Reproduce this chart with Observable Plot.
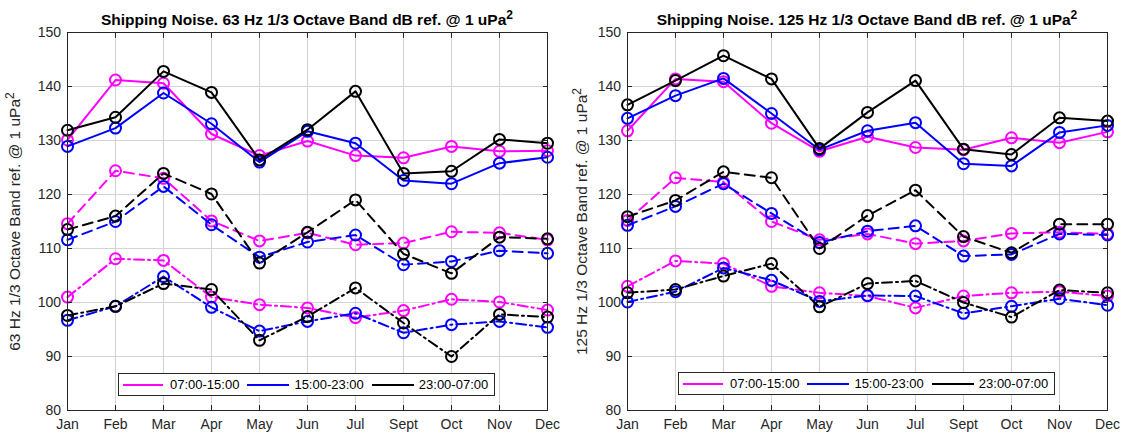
<!DOCTYPE html>
<html>
<head>
<meta charset="utf-8">
<script src="https://cdn.jsdelivr.net/npm/d3@7"></script>
<script src="https://cdn.jsdelivr.net/npm/@observablehq/plot@0.6"></script>
<style>
  body { margin: 0; background: #fff; font-family: Arial, "Liberation Sans", sans-serif; }
  #wrap { position: relative; width: 1126px; height: 435px; overflow: hidden; }
  .panel { position: absolute; top: 0; width: 563px; height: 435px; }
  .title { height: 26px; box-sizing: border-box; padding-top: 12px; line-height: 16px; font-weight: bold; font-size: 15.5px; color: #000; text-align: center; white-space: nowrap; }
  .title sup { font-size: 12px; vertical-align: 6px; line-height: 0; }
  .legend { position: absolute; height: 21px; border: 1px solid #262626; background: #fff; display: flex; align-items: center; font-size: 13px; color: #000; white-space: nowrap; }
  .legend .sw { display: inline-block; height: 2px; }
  .panel svg { display: block; }
</style>
</head>
<body>
<div id="wrap"></div>
<script>
// ---------- data ----------
const months = ["Jan", "Feb", "Mar", "Apr", "May", "Jun", "Jul", "Sept", "Oct", "Nov", "Dec"];
const periods = ["07:00-15:00", "15:00-23:00", "23:00-07:00"];
const lineKinds = ["solid", "dashed", "dashdot"];
const yTicks = [80, 90, 100, 110, 120, 130, 140, 150];

// 63 Hz panel
const hz63_solid_0715   = [130.1, 141.2, 140.6, 131.2, 127.2, 129.9, 127.2, 126.8, 128.9, 128.0, 128.1];
const hz63_solid_1523   = [128.9, 132.3, 138.8, 133.1, 126.0, 131.7, 129.5, 122.6, 122.0, 125.8, 126.9];
const hz63_solid_2307   = [131.9, 134.3, 142.8, 138.9, 126.4, 132.0, 139.1, 123.9, 124.3, 130.2, 129.5];
const hz63_dashed_0715  = [114.6, 124.4, 123.0, 115.1, 111.4, 112.9, 110.7, 111.0, 113.1, 112.9, 111.6];
const hz63_dashed_1523  = [111.6, 115.0, 121.5, 114.4, 108.4, 111.2, 112.5, 107.0, 107.6, 109.6, 109.1];
const hz63_dashed_2307  = [113.5, 116.0, 123.9, 120.1, 107.3, 113.0, 119.0, 109.0, 105.4, 112.1, 111.8];
const hz63_dashdot_0715 = [101.0, 108.1, 107.8, 101.0, 99.6, 99.0, 97.2, 98.5, 100.6, 100.1, 98.6];
const hz63_dashdot_1523 = [96.7, 99.3, 104.8, 99.1, 94.7, 96.5, 98.0, 94.4, 95.9, 96.5, 95.4];
const hz63_dashdot_2307 = [97.6, 99.3, 103.5, 102.4, 93.0, 97.4, 102.7, 96.2, 90.0, 97.8, 97.3];

// 125 Hz panel
const hz125_solid_0715   = [131.8, 141.4, 140.9, 133.2, 128.0, 130.7, 128.7, 128.3, 130.5, 129.6, 131.6];
const hz125_solid_1523   = [134.1, 138.3, 141.5, 135.0, 128.3, 131.8, 133.3, 125.7, 125.3, 131.5, 132.8];
const hz125_solid_2307   = [136.6, 141.1, 145.7, 141.4, 128.5, 135.2, 141.1, 128.4, 127.4, 134.2, 133.6];
const hz125_dashed_0715  = [115.2, 123.1, 122.3, 115.0, 111.6, 112.7, 110.9, 111.4, 112.8, 113.0, 112.7];
const hz125_dashed_1523  = [114.3, 117.8, 122.0, 116.5, 111.1, 113.2, 114.2, 108.6, 108.9, 112.7, 112.5];
const hz125_dashed_2307  = [115.9, 118.9, 124.2, 123.1, 110.0, 116.1, 120.8, 112.2, 109.2, 114.5, 114.5];
const hz125_dashdot_0715 = [103.0, 107.7, 107.2, 103.0, 101.8, 101.2, 99.0, 101.2, 101.8, 102.0, 101.2];
const hz125_dashdot_1523 = [100.1, 102.0, 106.4, 104.1, 100.2, 101.3, 101.2, 98.0, 99.3, 100.7, 99.5];
const hz125_dashdot_2307 = [101.8, 102.4, 104.9, 107.2, 99.2, 103.5, 104.0, 100.0, 97.3, 102.3, 101.8];

const titles = ["Shipping Noise. 63 Hz 1/3 Octave Band dB ref. @ 1 uPa", "Shipping Noise. 125 Hz 1/3 Octave Band dB ref. @ 1 uPa"];
const yLabels = ["63 Hz 1/3 Octave Band ref. @ 1 uPa", "125 Hz 1/3 Octave Band ref. @ 1 uPa"];

const panel63 = [
  [hz63_solid_0715, hz63_solid_1523, hz63_solid_2307],
  [hz63_dashed_0715, hz63_dashed_1523, hz63_dashed_2307],
  [hz63_dashdot_0715, hz63_dashdot_1523, hz63_dashdot_2307]
];
const panel125 = [
  [hz125_solid_0715, hz125_solid_1523, hz125_solid_2307],
  [hz125_dashed_0715, hz125_dashed_1523, hz125_dashed_2307],
  [hz125_dashdot_0715, hz125_dashdot_1523, hz125_dashdot_2307]
];

// ---------- drawing ----------
const colorRange = ["#ff00ff", "#0000ff", "#000000"];
const dashFor = {solid: null, dashed: "10,6", dashdot: "10,4,2,4"};
const axisColor = "#262626";

function buildPanel(series, title, yLabel, opts) {
  const div = document.createElement("div");
  div.className = "panel";
  div.style.left = opts.left + "px";

  const t = document.createElement("div");
  t.className = "title";
  t.style.marginLeft = opts.marginLeft + "px";
  t.style.width = (563 - opts.marginLeft - opts.marginRight) + "px";
  t.innerHTML = title + "<sup>2</sup>";
  div.appendChild(t);

  const marks = [
    Plot.gridX({stroke: "#d4d4d4", strokeOpacity: 1, strokeWidth: 1.2}),
    Plot.gridY(yTicks, {stroke: "#d4d4d4", strokeOpacity: 1, strokeWidth: 1.2})
  ];
  lineKinds.forEach((kind, k) => {
    periods.forEach((p, j) => {
      const rows = series[k][j].map((v, i) => ({month: months[i], value: v, period: p}));
      marks.push(Plot.line(rows, {x: "month", y: "value", stroke: "period", strokeWidth: 2, strokeDasharray: dashFor[kind]}));
      marks.push(Plot.dot(rows, {x: "month", y: "value", stroke: "period", r: 5.5, strokeWidth: 2}));
    });
  });
  marks.push(
    Plot.frame({stroke: axisColor, strokeWidth: 1}),
    Plot.axisX({anchor: "bottom", tickSize: -5, tickPadding: 14, label: null, fontSize: 14}),
    Plot.axisX({anchor: "top", tickSize: -5, text: null, label: null}),
    Plot.axisY(yTicks, {anchor: "left", tickSize: -5, tickPadding: 11.5, fontSize: 14, label: yLabel, labelAnchor: "center", labelArrow: "none", labelOffset: opts.labelOffset}),
    Plot.axisY(yTicks, {anchor: "right", tickSize: -5, text: null, label: null})
  );

  const svg = Plot.plot({
    width: 563,
    height: 409,
    marginTop: 6,
    marginBottom: 25,
    marginLeft: opts.marginLeft,
    marginRight: opts.marginRight,
    x: {type: "point", domain: months, padding: 0},
    y: {domain: [80, 150]},
    color: {domain: periods, range: colorRange},
    style: {fontFamily: "Arial, 'Liberation Sans', sans-serif", fontSize: "14px", color: axisColor, background: "transparent", overflow: "visible"},
    marks
  });

  // larger y-axis label with a superscript
  const labG = svg.querySelector('g[aria-label="y-axis label"]');
  const lab = labG && labG.querySelector("text");
  if (lab) {
    labG.setAttribute("font-size", "15.5");
    lab.setAttribute("font-size", "15.5");
    const ts = document.createElementNS("http://www.w3.org/2000/svg", "tspan");
    ts.setAttribute("dy", "-0.45em");
    ts.setAttribute("font-size", "12");
    ts.textContent = "2";
    lab.appendChild(ts);
  }
  div.appendChild(svg);

  // legend inside the axes
  const lg = document.createElement("div");
  lg.className = "legend";
  lg.style.left = opts.legendLeft + "px";
  lg.style.top = opts.legendTop + "px";
  lg.style.width = "375px";
  periods.forEach((p, j) => {
    const sw = document.createElement("span");
    sw.className = "sw";
    sw.style.background = colorRange[j];
    sw.style.width = (j === 0 ? 40 : 42) + "px";
    sw.style.marginLeft = (j === 0 ? 4 : 8) + "px";
    sw.style.marginRight = (j === 0 ? 7 : 5) + "px";
    const tx = document.createElement("span");
    tx.textContent = p;
    lg.appendChild(sw);
    lg.appendChild(tx);
  });
  div.appendChild(lg);
  return div;
}

const wrap = document.getElementById("wrap");
wrap.appendChild(buildPanel(panel63, titles[0], yLabels[0], {left: 0, marginLeft: 67, marginRight: 16, labelOffset: 59, legendLeft: 118, legendTop: 373}));
wrap.appendChild(buildPanel(panel125, titles[1], yLabels[1], {left: 563, marginLeft: 64, marginRight: 19, labelOffset: 52, legendLeft: 115, legendTop: 372}));
</script>
</body>
</html>
